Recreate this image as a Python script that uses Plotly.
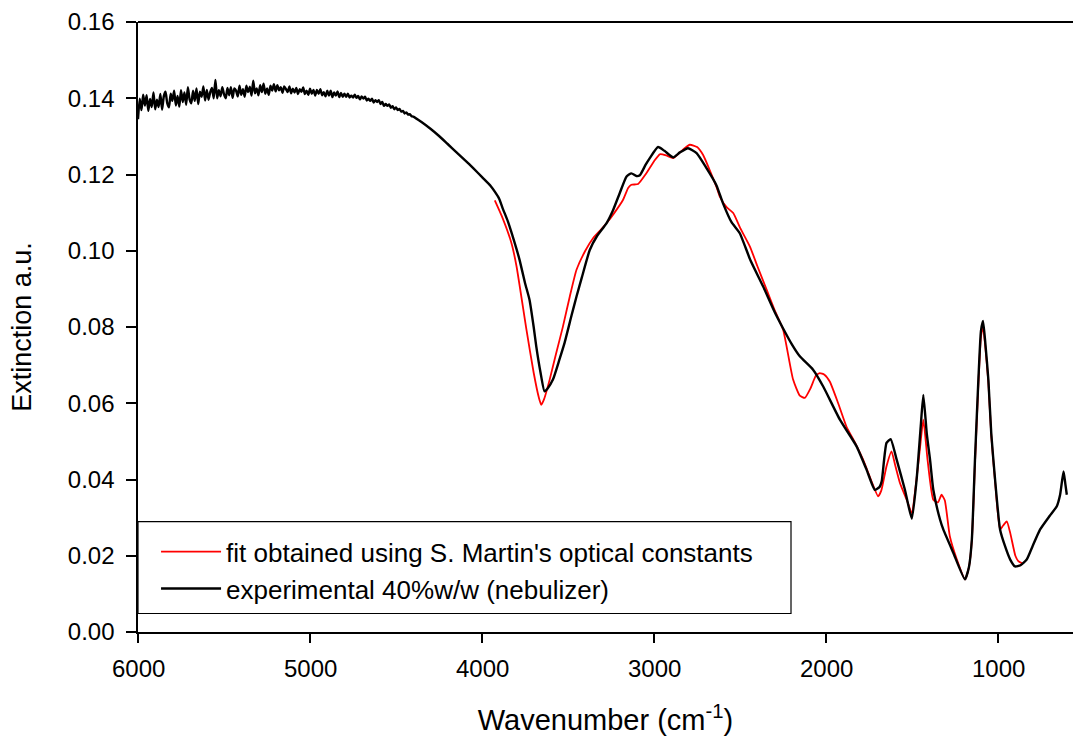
import plotly.graph_objects as go

# ---- experimental 40% w/w (nebulizer): noisy high-wavenumber region ----
exp_noisy_wn = list(range(6000, 4400, -10))
exp_noisy_val = [
    # 6000 .. 5610
    0.1345, 0.1399, 0.1369, 0.1409, 0.1381, 0.1408, 0.1367, 0.1398, 0.1377, 0.1415,
    0.1371, 0.1396, 0.1377, 0.1411, 0.1370, 0.1405, 0.1417, 0.1387, 0.1376, 0.1412,
    0.1393, 0.1420, 0.1381, 0.1406, 0.1378, 0.1421, 0.1390, 0.1415, 0.1383, 0.1429,
    0.1397, 0.1387, 0.1420, 0.1393, 0.1426, 0.1385, 0.1417, 0.1404, 0.1431, 0.1394,
    # 5600 .. 5210
    0.1422, 0.1396, 0.1416, 0.1427, 0.1400, 0.1448, 0.1400, 0.1421, 0.1405, 0.1429,
    0.1410, 0.1400, 0.1427, 0.1408, 0.1429, 0.1401, 0.1426, 0.1420, 0.1405, 0.1433,
    0.1409, 0.1424, 0.1404, 0.1433, 0.1416, 0.1430, 0.1407, 0.1446, 0.1413, 0.1426,
    0.1408, 0.1434, 0.1416, 0.1438, 0.1412, 0.1426, 0.1409, 0.1433, 0.1420, 0.1437,
    # 5200 .. 4810
    0.1418, 0.1434, 0.1421, 0.1429, 0.1414, 0.1431, 0.1424, 0.1416, 0.1431, 0.1413,
    0.1425, 0.1415, 0.1427, 0.1411, 0.1424, 0.1417, 0.1428, 0.1411, 0.1420, 0.1409,
    0.1425, 0.1412, 0.1422, 0.1407, 0.1422, 0.1412, 0.1424, 0.1408, 0.1416, 0.1405,
    0.1420, 0.1407, 0.1420, 0.1403, 0.1415, 0.1407, 0.1418, 0.1403, 0.1414, 0.1404,
    # 4800 .. 4410
    0.1412, 0.1404, 0.1412, 0.1402, 0.1407, 0.1402, 0.1409, 0.1401, 0.1406, 0.1397,
    0.1405, 0.1399, 0.1404, 0.1394, 0.1399, 0.1393, 0.1399, 0.1389, 0.1395, 0.1390,
    0.1395, 0.1385, 0.1390, 0.1380, 0.1385, 0.1380, 0.1384, 0.1375, 0.1379, 0.1371,
    0.1376, 0.1369, 0.1372, 0.1365, 0.1367, 0.1360, 0.1363, 0.1357, 0.1358, 0.1353,
]

# ---- experimental, smooth region ----
exp_wn = [4400, 4350, 4300, 4250, 4200, 4150, 4100, 4050, 4000, 3950,
          3926, 3900, 3879, 3850, 3800, 3782, 3750, 3724, 3700, 3685,
          3660, 3637, 3620, 3588, 3550, 3520, 3480, 3451, 3420, 3374,
          3330, 3277, 3240, 3200, 3160, 3132, 3103, 3083, 3050, 3025,
          2977, 2940, 2889, 2850, 2803, 2753, 2700, 2638, 2600, 2550,
          2502, 2440, 2366, 2300, 2250, 2200, 2153, 2076, 2017, 1920,
          1823, 1765, 1717, 1690, 1677, 1649, 1625, 1590, 1542, 1502,
          1474, 1450, 1435, 1415, 1396, 1377, 1338, 1319, 1261, 1193,
          1170, 1153, 1135, 1115, 1100, 1088, 1075, 1057, 1040, 1018,
          989, 960, 930, 902, 870, 834, 800, 756, 700, 659,
          640, 620, 610, 601]
exp_val = [0.1352, 0.1337, 0.1320, 0.1301, 0.1280, 0.1259, 0.1238, 0.1216, 0.1193, 0.1170,
           0.1155, 0.1136, 0.1110, 0.1077, 0.1005, 0.0976, 0.0915, 0.0871, 0.0800, 0.0749,
           0.0680, 0.0631, 0.0638, 0.0662, 0.0715, 0.0759, 0.0830, 0.0880, 0.0930, 0.1002,
           0.1040, 0.1072, 0.1105, 0.1151, 0.1195, 0.1203, 0.1196, 0.1198, 0.1225, 0.1243,
           0.1272, 0.1262, 0.1245, 0.1258, 0.1269, 0.1256, 0.1220, 0.1172, 0.1125, 0.1075,
           0.1046, 0.0975, 0.0906, 0.0840, 0.0796, 0.0755, 0.0723, 0.0688, 0.0644, 0.0557,
           0.0487, 0.0426, 0.0373, 0.0380, 0.0395, 0.0496, 0.0506, 0.0452, 0.0373, 0.0297,
           0.0400, 0.0540, 0.0622, 0.0520, 0.0452, 0.0373, 0.0295, 0.0269, 0.0208, 0.0138,
           0.0170, 0.0242, 0.0450, 0.0662, 0.0790, 0.0816, 0.0760, 0.0662, 0.0520, 0.0400,
           0.0269, 0.0225, 0.0190, 0.0172, 0.0175, 0.0190, 0.0225, 0.0269, 0.0305, 0.0330,
           0.0360, 0.0421, 0.0390, 0.0360]

# ---- fit obtained using S. Martin's optical constants ----
fit_wn = [3926, 3880, 3829, 3800, 3742, 3700, 3670, 3656, 3640, 3607,
          3570, 3530, 3490, 3451, 3400, 3355, 3310, 3277, 3230, 3181,
          3150, 3132, 3093, 3050, 3000, 2967, 2930, 2889, 2850, 2793,
          2750, 2715, 2680, 2638, 2618, 2580, 2540, 2500, 2443, 2400,
          2346, 2300, 2250, 2192, 2153, 2124, 2090, 2060, 2037, 2010,
          1979, 1930, 1882, 1830, 1785, 1740, 1698, 1680, 1649, 1620,
          1600, 1571, 1530, 1502, 1480, 1455, 1435, 1410, 1377, 1350,
          1329, 1310, 1281, 1240, 1193, 1170, 1153, 1135, 1115, 1100,
          1088, 1075, 1057, 1040, 1018, 989, 970, 950, 930, 900,
          883, 860]
fit_val = [0.1132, 0.1085, 0.1020, 0.0960, 0.0793, 0.0680, 0.0615, 0.0596, 0.0610, 0.0662,
           0.0730, 0.0801, 0.0880, 0.0950, 0.1000, 0.1033, 0.1055, 0.1072, 0.1100, 0.1133,
           0.1165, 0.1173, 0.1175, 0.1200, 0.1235, 0.1253, 0.1250, 0.1243, 0.1258, 0.1278,
           0.1272, 0.1251, 0.1215, 0.1168, 0.1142, 0.1115, 0.1099, 0.1060, 0.1011, 0.0960,
           0.0898, 0.0845, 0.0793, 0.0662, 0.0620, 0.0614, 0.0640, 0.0672, 0.0679, 0.0675,
           0.0657, 0.0600, 0.0539, 0.0495, 0.0452, 0.0400, 0.0356, 0.0370, 0.0435, 0.0474,
           0.0440, 0.0391, 0.0345, 0.0312, 0.0380, 0.0480, 0.0557, 0.0450, 0.0347, 0.0340,
           0.0360, 0.0345, 0.0251, 0.0190, 0.0138, 0.0170, 0.0240, 0.0440, 0.0650, 0.0775,
           0.0800, 0.0750, 0.0655, 0.0515, 0.0395, 0.0269, 0.0280, 0.0290, 0.0260, 0.0200,
           0.0186, 0.0180]

x_ticks = [6000, 5000, 4000, 3000, 2000, 1000]
x_ticklabels = ["6000", "5000", "4000", "3000", "2000", "1000"]
y_ticks = [0.00, 0.02, 0.04, 0.06, 0.08, 0.10, 0.12, 0.14, 0.16]

FONT = "Liberation Sans, Arial, sans-serif"
X_RANGE = [6000, 565]

fig = go.Figure()
fig.add_trace(go.Scatter(
    x=fit_wn, y=fit_val, mode="lines",
    line=dict(color="#ff0000", width=1.8, shape="spline", smoothing=0.5),
    name="fit obtained using S. Martin's optical constants"))
fig.add_trace(go.Scatter(
    x=exp_noisy_wn + exp_wn, y=exp_noisy_val + exp_val, mode="lines",
    line=dict(color="#000000", width=2.4, shape="spline", smoothing=0.5),
    name="experimental 40%w/w (nebulizer)"))

# x tick labels placed at the axis tick values (data coordinates)
tick_annotations = [
    dict(x=v, y=0, xref="x", yref="paper", text=t, showarrow=False,
         xanchor="center", yanchor="middle", yshift=-36,
         font=dict(family=FONT, size=24, color="black"))
    for v, t in zip(x_ticks, x_ticklabels)
]

fig.update_layout(
    width=1073, height=736,
    margin=dict(l=138, r=0, t=22, b=104),
    paper_bgcolor="white", plot_bgcolor="white",
    font=dict(family=FONT, color="black", size=24),
    showlegend=True,
    legend=dict(x=0.0193, y=0.170, xanchor="left", yanchor="top",
                bgcolor="rgba(0,0,0,0)", borderwidth=0,
                font=dict(family=FONT, size=26, color="black"),
                itemwidth=60, tracegroupgap=0),
    annotations=tick_annotations,
    shapes=[
        dict(type="line", xref="paper", yref="paper", x0=0, x1=1, y0=1, y1=1,
             line=dict(color="black", width=2)),
        dict(type="rect", xref="paper", yref="paper", x0=0, x1=0.6984,
             y0=0.0303, y1=0.181, line=dict(color="black", width=1.2),
             fillcolor="white", layer="below"),
    ],
    xaxis=dict(
        range=X_RANGE, tickvals=x_ticks, showticklabels=False, automargin=False,
        showgrid=False, zeroline=False, showline=True, linecolor="black", linewidth=2,
        ticks="outside", ticklen=9, tickwidth=1.5, tickcolor="black",
        title=dict(text="Wavenumber (cm<sup>-1</sup>)", font=dict(size=29), standoff=68),
    ),
    yaxis=dict(
        range=[0, 0.16], tickvals=y_ticks, automargin=False,
        ticktext=[f"{v:.2f}\u00a0" for v in y_ticks],
        showgrid=False, zeroline=False, showline=True, linecolor="black", linewidth=2,
        ticks="outside", ticklen=10, tickwidth=1.5, tickcolor="black",
        tickfont=dict(size=24),
        title=dict(text="Extinction a.u.", font=dict(size=27), standoff=28),
    ),
)

fig.write_html("out.html")
